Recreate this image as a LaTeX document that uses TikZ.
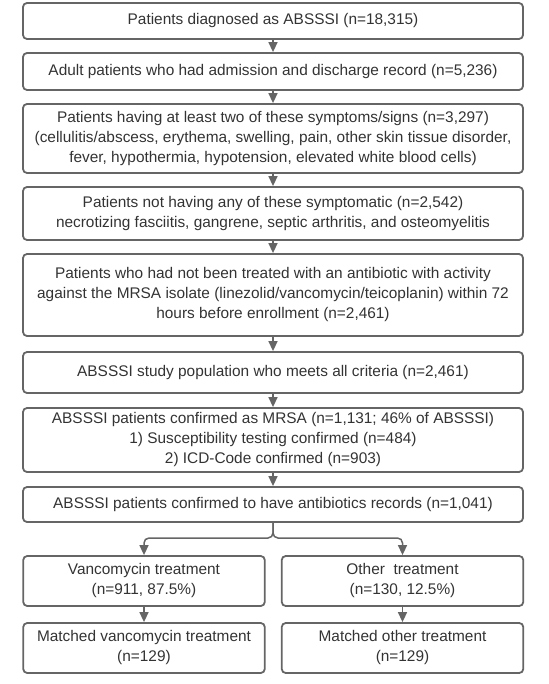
\documentclass[tikz,border=0pt]{standalone}
\usepackage{fontspec}
\setmainfont{Liberation Sans}
\usetikzlibrary{arrows.meta}
\definecolor{boxline}{HTML}{656565}
\definecolor{boxtext}{HTML}{333333}

\begin{document}
\begin{tikzpicture}[x=1pt,y=-1pt,font=\fontsize{15.4}{20}\selectfont,
  box/.style={draw=boxline,line width=1.8pt,rounded corners=4pt,text=boxtext,align=center,inner sep=2pt},
  wide/.style={box,minimum width=500pt},
  half/.style={box,minimum width=241.5pt,minimum height=50pt},
  arr/.style={draw=boxline,line width=1.5pt,-{Triangle[width=9pt,length=10pt]}}]
  \useasboundingbox (0,0) rectangle (548,684);
  \node[wide,minimum height=36pt] (diag) at (273,21) {Patients diagnosed as ABSSSI (n=18,315)};
  \node[wide,minimum height=37pt] (adult) at (273,71.5) {Adult patients who had admission and discharge record (n=5,236)};
  \node[wide,minimum height=69pt] (symp) at (273,138.5) {Patients having at least two of these symptoms/signs (n=3,297)\\(cellulitis/abscess, erythema, swelling, pain, other skin tissue disorder,\\fever, hypothermia, hypotension, elevated white blood cells)};
  \node[wide,minimum height=53pt] (nonec) at (273,213.5) {Patients not having any of these symptomatic (n=2,542)\\necrotizing fasciitis, gangrene, septic arthritis, and osteomyelitis};
  \node[wide,minimum height=82pt] (noabx) at (273,295) {Patients who had not been treated with an antibiotic with activity\\against the MRSA isolate (linezolid/vancomycin/teicoplanin) within 72\\hours before enrollment (n=2,461)};
  \node[wide,minimum height=41pt] (study) at (273,372.5) {ABSSSI study population who meets all criteria (n=2,461)};
  \node[wide,minimum height=64pt] (mrsa) at (273,440) {ABSSSI patients confirmed as MRSA (n=1,131; 46\% of ABSSSI)\\1) Susceptibility testing confirmed (n=484)\\2) ICD-Code confirmed (n=903)};
  \node[wide,minimum height=35pt] (records) at (273,504.5) {ABSSSI patients confirmed to have antibiotics records (n=1,041)};
  \node[half] (vanco) at (144,581) {Vancomycin treatment\\(n=911, 87.5\%)};
  \node[half] (other) at (402.5,581) {Other~ treatment\\(n=130, 12.5\%)};
  \node[half] (mvanco) at (144,648) {Matched vancomycin treatment\\(n=129)};
  \node[half] (mother) at (402.5,648) {Matched other treatment\\(n=129)};
  \foreach \a/\b in {diag/adult, adult/symp, symp/nonec, nonec/noabx, noabx/study, study/mrsa, mrsa/records, vanco/mvanco, other/mother}{
    \draw[arr] (\a.south) -- (\b.north);
  }
  \coordinate (split) at (273,538);
  \draw[arr,rounded corners=5pt] (records.south) -- (split) -| (vanco.north);
  \draw[arr,rounded corners=5pt] (records.south) -- (split) -| (other.north);
\end{tikzpicture}
\end{document}
